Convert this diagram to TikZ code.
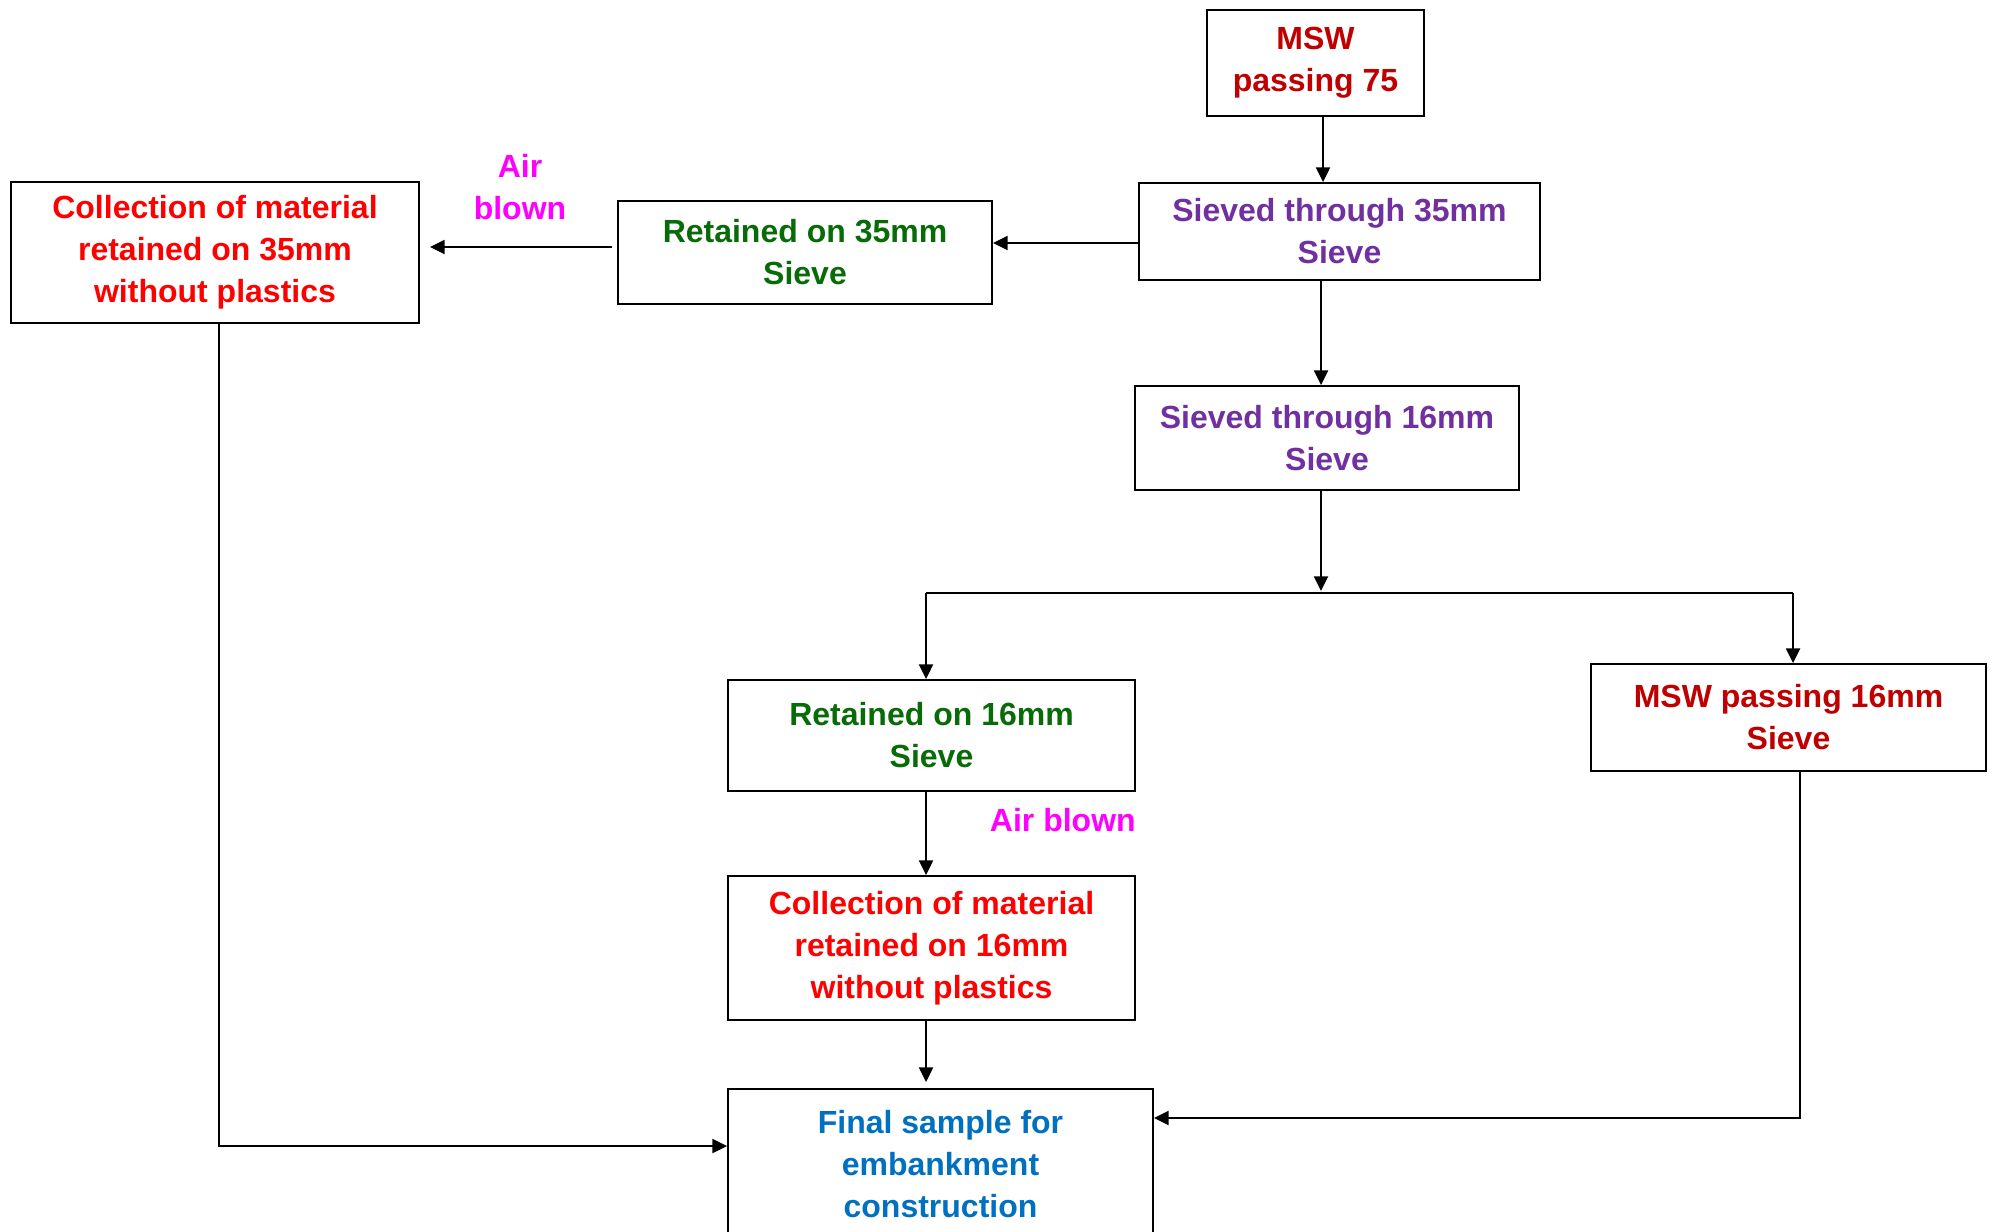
\documentclass[tikz,border=0pt]{standalone}
\usepackage{fontspec}
\setmainfont{Liberation Sans}
\usetikzlibrary{arrows.meta,calc}
\definecolor{dred}{HTML}{C00000}
\definecolor{bred}{HTML}{FF0000}
\definecolor{dgreen}{HTML}{076B07}
\definecolor{purp}{HTML}{7030A0}
\definecolor{magen}{HTML}{FF00FF}
\definecolor{blu}{HTML}{0070C0}
\begin{document}
\begin{tikzpicture}[x=0.75pt,y=-0.75pt,
  box/.style={draw,line width=1.4pt,align=center,inner sep=0pt,font=\fontsize{24}{31.5}\selectfont\bfseries},
  lbl/.style={align=center,inner sep=0pt,text=magen,font=\fontsize{24}{31.5}\selectfont\bfseries},
  arr/.style={-{Triangle[length=11pt,width=10.5pt]},line width=1.5pt},
  ln/.style={line width=1.5pt}]
\useasboundingbox (0,0) rectangle (1997,1231);
\clip (0,0) rectangle (1997,1231);

\node[box,text=dred,minimum width=162.75pt,minimum height=79.5pt] (msw75) at (1315.5,63) {MSW\\passing 75};
\node[box,text=purp,minimum width=300.75pt,minimum height=72.75pt] (sieved35) at (1339.5,231.5) {Sieved through 35mm\\Sieve};
\node[box,text=dgreen,minimum width=280.5pt,minimum height=77.25pt] (ret35) at (805,252.5) {Retained on 35mm\\Sieve};
\node[box,text=bred,minimum width=306pt,minimum height=105.75pt] (coll35) at (215,252.5) {Collection of material\\retained on 35mm\\without plastics};
\node[lbl] (air1) at (520,187) {Air\\blown};
\node[box,text=purp,minimum width=288pt,minimum height=78pt] (sieved16) at (1327,438) {Sieved through 16mm\\Sieve};
\node[box,text=dgreen,minimum width=305.25pt,minimum height=83.25pt] (ret16) at (931.5,735.5) {Retained on 16mm\\Sieve};
\node[box,text=dred,minimum width=296.25pt,minimum height=80.25pt] (msw16) at (1788.5,717.5) {MSW passing 16mm\\Sieve};
\node[lbl,anchor=east] (air2) at (1136,820) {Air blown};
\node[box,text=bred,minimum width=305.25pt,minimum height=108pt] (coll16) at (931.5,948) {Collection of material\\retained on 16mm\\without plastics};
\node[box,text=blu,minimum width=318.75pt,minimum height=112.5pt] (final) at (940.5,1164) {Final sample for\\embankment\\construction};

\coordinate (split) at (1321,593);
\coordinate (splitL) at (926,593);
\coordinate (splitR) at (1793,593);

\draw[arr] ($(msw75.south)+(7.5,0)$) -- ($(msw75.south |- sieved35.north)+(7.5,0)$);
\draw[arr] ($(sieved35.west)+(0,11.5)$) -- ($(ret35.east)+(0,-9.5)$);
\draw[arr] ($(ret35.west)+(-5,-5.5)$) -- ($(coll35.east)+(10,-5.5)$);
\draw[arr] (sieved35.south -| split) -- (sieved16.north -| split);
\draw[arr] (sieved16.south -| split) -- ($(split)+(0,-2)$);
\draw[ln] (splitL) -- (splitR);
\draw[arr] (splitL) -- (ret16.north -| splitL);
\draw[arr] (splitR) -- (msw16.north -| splitR);
\draw[arr] (ret16.south -| splitL) -- (coll16.north -| splitL);
\draw[arr] (coll16.south -| splitL) -- ($(final.north -| splitL)+(0,-6)$);
\draw[arr] ($(coll35.south)+(4,0)$) |- ($(final.west)+(0,-18)$);
\draw[arr] ($(msw16.south)+(11.5,0)$) |- ($(final.east)+(0,-46)$);
\end{tikzpicture}
\end{document}
